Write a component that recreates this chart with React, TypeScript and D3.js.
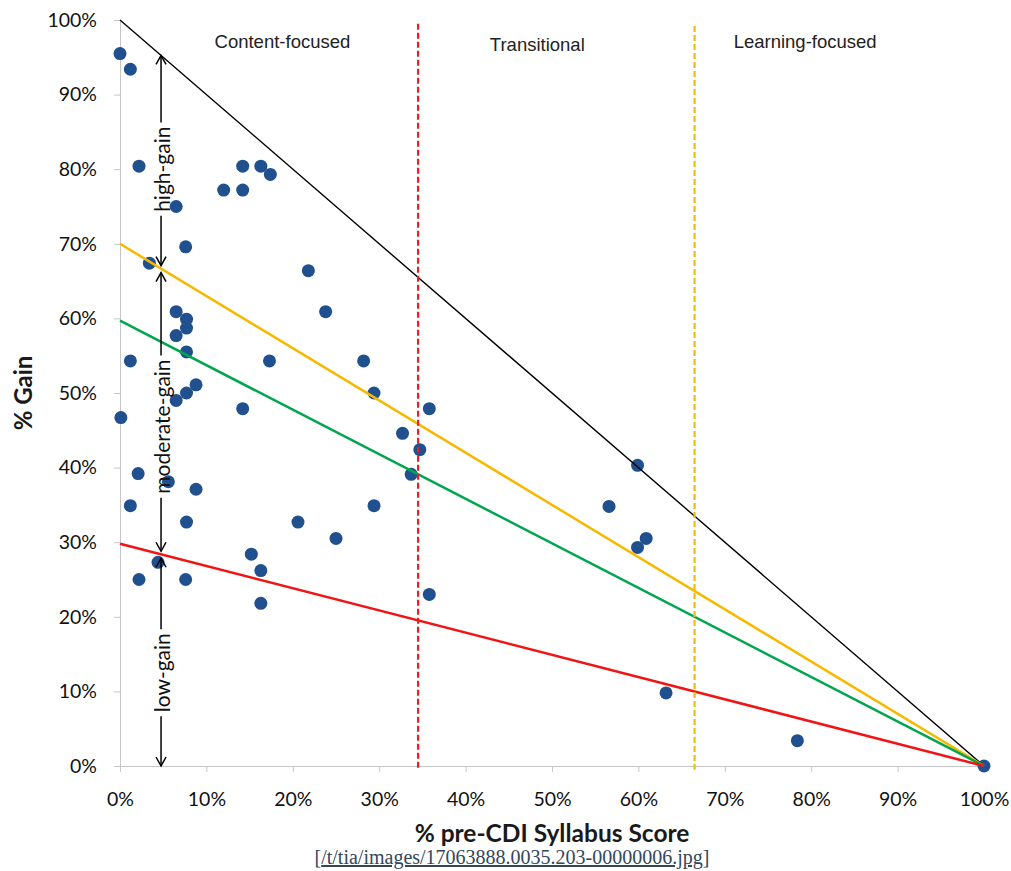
import React, { useEffect, useRef } from 'react'
import * as d3 from 'd3'

const [W, H] = [1011, 871]
const margin = { left: 120, right: 27, top: 20, bottom: 105 }

// one point per course: % pre-CDI syllabus score vs % gain
const preScore = [
  0, 1.2, 2.2, 6.5, 7.6, 3.4, 12.0, 14.2, 14.2, 16.3, 17.4, 21.8,
  6.5, 7.7, 7.7, 6.5, 7.7, 1.2, 17.3, 23.8, 28.2, 29.4, 8.8, 7.7,
  6.5, 14.2, 0.1, 32.7, 2.1, 5.6, 8.8, 1.2, 29.4, 7.7, 20.6, 25.0,
  15.2, 16.3, 4.4, 2.2, 7.6, 16.3, 35.8, 34.7, 33.7, 59.9, 56.6, 60.9,
  59.9, 35.8, 63.2, 78.4, 100,
]
const gain = [
  95.5, 93.4, 80.4, 75.0, 69.6, 67.4, 77.2, 80.4, 77.2, 80.4, 79.3, 66.4,
  60.9, 59.9, 58.7, 57.7, 55.5, 54.3, 54.3, 60.9, 54.3, 50.0, 51.1, 50.0,
  49.0, 47.9, 46.7, 44.6, 39.2, 38.1, 37.1, 34.9, 34.9, 32.7, 32.7, 30.5,
  28.4, 26.2, 27.3, 25.0, 25.0, 21.8, 47.9, 42.4, 39.1, 40.3, 34.8, 30.5,
  29.3, 23.0, 9.8, 3.4, 0,
]

const ticks = [0, 10, 20, 30, 40, 50, 60, 70, 80, 90, 100]

// straight lines from (0%, intercept) down to (100%, 0%)
const lineNames = ['max', 'high', 'moderate', 'low']
const lineIntercepts = [100, 70, 59.7, 29.8]
const lineColors = { max: '#000000', high: '#f7b900', moderate: '#00a64f', low: '#f01414' }

// syllabus zones
const zoneCuts = [34.5, 66.5]
const zoneCutColors = ['#ee1c25', '#f7bb00']
const zoneNames = ['Content-focused', 'Transitional', 'Learning-focused']
const zoneLabelX = [18.8, 48.3, 79.3]
const zoneLabelY = [96.3, 95.8, 96.3]

// gain bands, marked with arrows between the lines
const bandNames = ['high-gain', 'moderate-gain', 'low-gain']
const bandTop = ['max', 'high', 'low']
const bandBottom = ['high', 'low', null]
const bandLabelY = [80, 45.5, 12.5]
const bandX = 4.75

const lineAt = (name: string | null, xv: number) =>
  name === null ? 0 : lineIntercepts[lineNames.indexOf(name)] * (1 - xv / 100)

export default function App() {
  const ref = useRef<SVGSVGElement>(null)

  useEffect(() => {
    const svg = d3.select(ref.current)
    svg.selectAll('*').remove()

    const x = d3.scaleLinear().domain([0, 100]).range([margin.left, W - margin.right])
    const y = d3.scaleLinear().domain([0, 100]).range([H - margin.bottom, margin.top])

    // axes
    const gy = svg.append('g')
      .attr('transform', `translate(${margin.left},0)`)
      .call(d3.axisLeft(y).tickValues(ticks).tickFormat(d => d + '%')
        .tickSize(6).tickSizeOuter(0).tickPadding(17))
    const gx = svg.append('g')
      .attr('transform', `translate(0,${H - margin.bottom})`)
      .call(d3.axisBottom(x).tickValues(ticks).tickFormat(d => d + '%')
        .tickSize(6).tickSizeOuter(0).tickPadding(20))
    for (const g of [gx, gy]) {
      g.attr('font-family', 'Lato').attr('font-size', 19.5)
      g.select('.domain').attr('stroke', '#c6c6c6')
      g.selectAll('.tick line').attr('stroke', '#c6c6c6')
      g.selectAll('.tick text').attr('fill', '#111')
    }

    // points
    svg.append('g')
      .selectAll('circle')
      .data(preScore)
      .join('circle')
      .attr('cx', d => x(d))
      .attr('cy', (d, i) => y(gain[i]))
      .attr('r', 6.5)
      .attr('fill', '#21508f')

    // sloped lines
    svg.append('g')
      .selectAll('path')
      .data(lineNames)
      .join('path')
      .attr('d', (d, i) => d3.line()([[x(0), y(lineIntercepts[i])], [x(100), y(0)]]))
      .attr('stroke', d => lineColors[d])
      .attr('stroke-width', d => d === 'max' ? 1.4 : 2.5)
      .attr('fill', 'none')

    // zone boundaries
    svg.append('g')
      .selectAll('line')
      .data(zoneCuts)
      .join('line')
      .attr('x1', d => x(d)).attr('x2', d => x(d))
      .attr('y1', (d, i) => y(i === 0 ? 99.5 : 99.2)).attr('y2', y(-0.5))
      .attr('stroke', (d, i) => zoneCutColors[i])
      .attr('stroke-width', 2.2)
      .attr('stroke-dasharray', '6,3')

    svg.append('g')
      .selectAll('text')
      .data(zoneNames)
      .join('text')
      .attr('x', (d, i) => x(zoneLabelX[i]))
      .attr('y', (d, i) => y(zoneLabelY[i]))
      .attr('text-anchor', 'middle')
      .attr('font-family', 'Liberation Sans')
      .attr('font-size', 18.5)
      .attr('fill', '#222')
      .text(d => d)

    // gain band arrows; tips stop just short of the coloured lines
    const ax = x(bandX)
    const head = (tip: number, dir: number) =>
      `M${ax - 5},${tip + dir * 9}L${ax},${tip}L${ax + 5},${tip + dir * 9}`
    bandNames.forEach((name, i) => {
      const topGap = bandTop[i] === 'max' ? 0 : 4
      const bottomGap = bandBottom[i] === null ? 0 : 3
      const top = y(lineAt(bandTop[i], bandX)) + topGap
      const bottom = y(lineAt(bandBottom[i], bandX)) - bottomGap
      const cy = y(bandLabelY[i])
      const g = svg.append('g').attr('stroke', '#000').attr('fill', 'none').attr('stroke-width', 1.5)
      const t = svg.append('text')
        .attr('transform', `translate(${ax},${cy}) rotate(-90)`)
        .attr('text-anchor', 'middle')
        .attr('dominant-baseline', 'central')
        .attr('font-family', 'Lato')
        .attr('font-size', 21)
        .attr('fill', '#111')
        .text(name)
      const half = (t.node() as SVGTextElement).getComputedTextLength() / 2 + 4
      g.append('line').attr('x1', ax).attr('x2', ax).attr('y1', top).attr('y2', cy - half)
      g.append('line').attr('x1', ax).attr('x2', ax).attr('y1', cy + half).attr('y2', bottom)
      g.append('path').attr('d', head(top, 1))
      g.append('path').attr('d', head(bottom, -1))
    })

    // axis titles
    svg.append('text')
      .attr('transform', `translate(32,${(margin.top + H - margin.bottom) / 2}) rotate(-90)`)
      .attr('text-anchor', 'middle')
      .attr('font-family', 'Lato')
      .attr('font-weight', 'bold')
      .attr('font-size', 24)
      .attr('fill', '#1a1a1a')
      .text('% Gain')
    svg.append('text')
      .attr('x', x(50))
      .attr('y', 842)
      .attr('text-anchor', 'middle')
      .attr('font-family', 'Lato')
      .attr('font-weight', 'bold')
      .attr('font-size', 24.5)
      .attr('fill', '#1a1a1a')
      .text('% pre-CDI Syllabus Score')

    // image source caption
    const cap = svg.append('text')
      .attr('x', 512)
      .attr('y', 864)
      .attr('text-anchor', 'middle')
      .attr('font-family', 'Liberation Serif')
      .attr('font-size', 20)
      .attr('fill', '#33475b')
    cap.append('tspan').text('[')
    cap.append('tspan').attr('text-decoration', 'underline').text('/t/tia/images/17063888.0035.203-00000006.jpg')
    cap.append('tspan').text(']')
  }, [])

  return (
    <div style={{ position: 'absolute', left: 0, top: 0 }}>
      <svg ref={ref} width={W} height={H} style={{ display: 'block', background: '#fff' }} />
    </div>
  )
}
